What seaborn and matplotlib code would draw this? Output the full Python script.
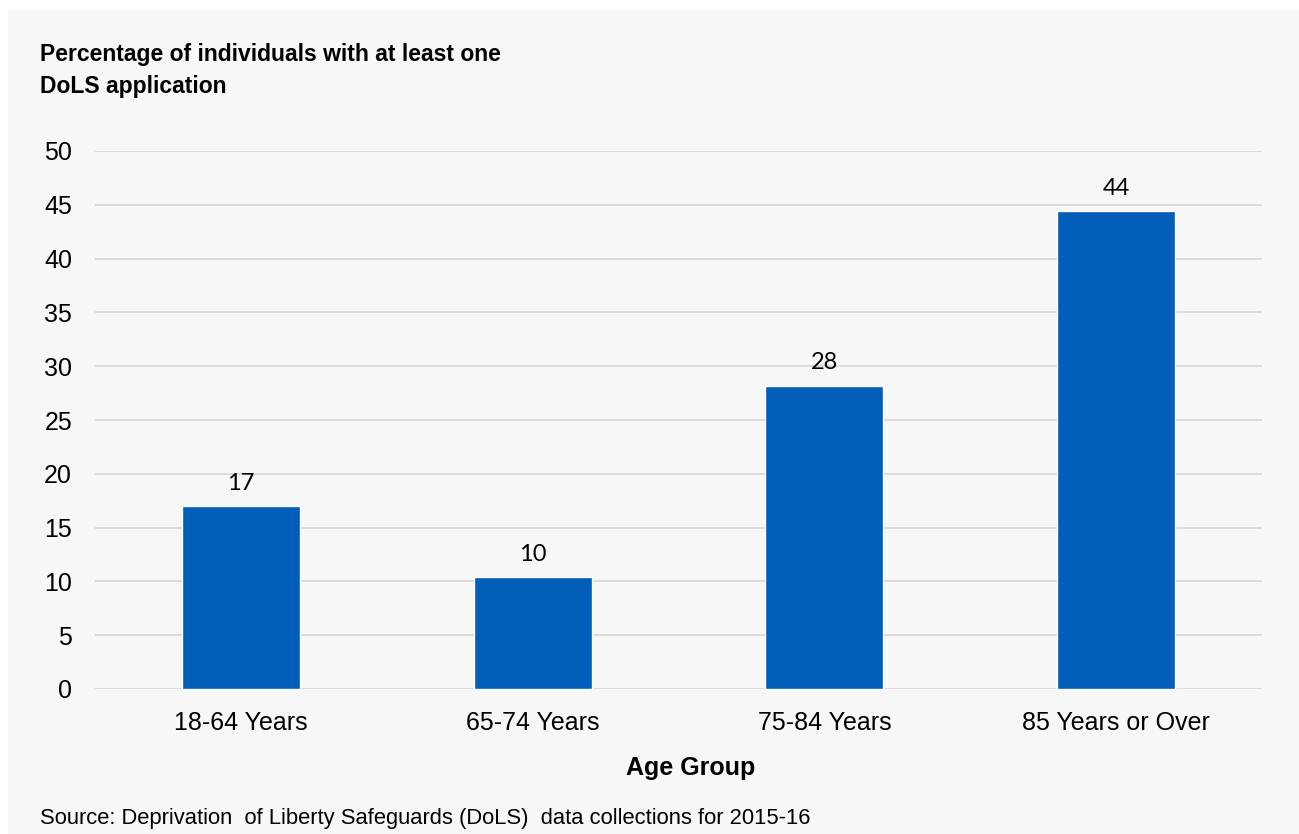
import matplotlib
matplotlib.use("Agg")
import matplotlib.pyplot as plt
import matplotlib.patches as mpatches
import seaborn as sns
import pandas as pd

# Data
age_groups = ["18-64 Years", "65-74 Years", "75-84 Years", "85 Years or Over"]
pct_with_application = [17.0, 10.4, 28.2, 44.4]
y_ticks = [0, 5, 10, 15, 20, 25, 30, 35, 40, 45, 50]

title_text = "Percentage of individuals with at least one\nDoLS application"
x_label = "Age Group"
source_text = "Source: Deprivation  of Liberty Safeguards (DoLS)  data collections for 2015-16"

bar_color = "#005EB8"
panel_bg = "#F7F7F7"
grid_color = "#D9D9D9"

df = pd.DataFrame({"Age Group": age_groups, "Percentage": pct_with_application})

sns.set_theme(style="white")
plt.rcParams["font.family"] = ["Liberation Sans", "DejaVu Sans"]

W, H = 1299, 834
fig = plt.figure(figsize=(W / 100, H / 100), dpi=100, facecolor="white")

# Light grey panel behind the whole chart, leaving a thin white margin top/left
fig.patches.append(mpatches.Rectangle((8 / W, 0), 1 - 8 / W, 1 - 10 / H,
                                      transform=fig.transFigure, facecolor=panel_bg,
                                      edgecolor="none", zorder=-10))

ax = fig.add_axes([95 / W, 145 / H, (1262 - 95) / W, (689 - 151) / H])
ax.patch.set_alpha(0)

sns.barplot(data=df, x="Age Group", y="Percentage", color=bar_color,
            saturation=1, width=0.405, ax=ax, zorder=3)

ax.set_ylim(0, 50)
ax.set_yticks(y_ticks)
ax.set_xlim(-0.5, len(age_groups) - 0.5)
ax.yaxis.grid(True, color=grid_color, linewidth=1.3, zorder=0)
ax.set_axisbelow(True)
for s in ax.spines.values():
    s.set_visible(False)

ax.tick_params(axis="y", length=0, pad=16.5, labelsize=18, labelcolor="#000000")
ax.tick_params(axis="x", length=0, pad=16, labelsize=18, labelcolor="#000000")
ax.set_ylabel("")
ax.set_xlabel(x_label, fontsize=18, fontweight="bold", color="#000000", labelpad=15)
ax.xaxis.label.set_x(0.51)

# Value labels above the bars
for container in ax.containers:
    ax.bar_label(container, labels=[f"{v:.0f}" for v in pct_with_application],
                 padding=9, fontsize=17, color="#000000", family=["Lato", "DejaVu Sans"])

fig.text(40 / W, 1 - 43 / H, title_text, fontsize=16.5, fontweight="bold",
         ha="left", va="top", color="#000000", linespacing=1.5)
fig.text(40 / W, 1 - 824 / H, source_text, fontsize=15.8, ha="left", va="baseline",
         color="#000000")

fig.savefig("out.png", dpi=100, facecolor="white")
